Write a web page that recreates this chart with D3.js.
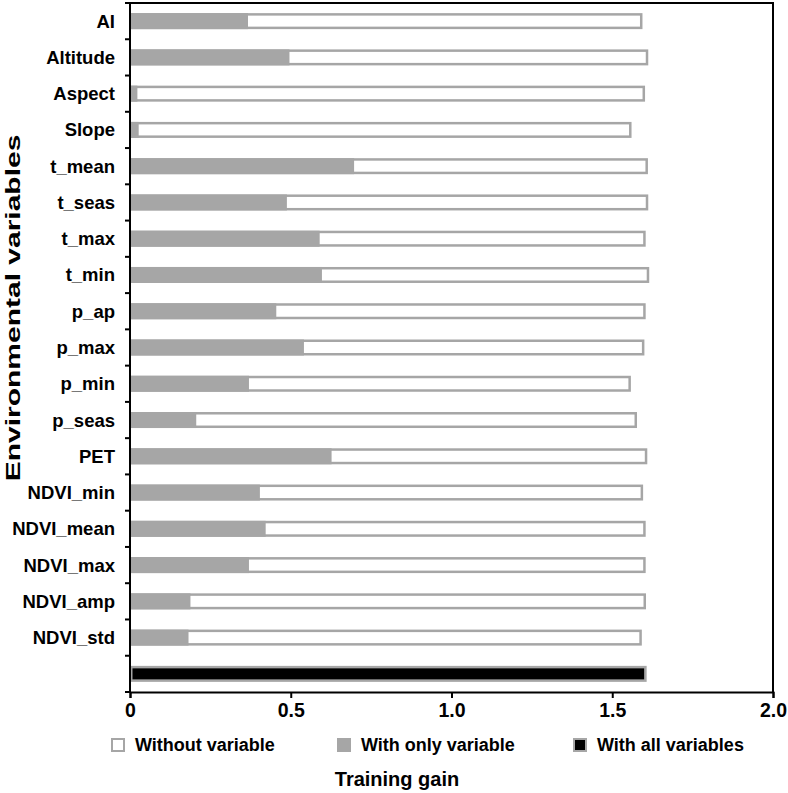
<!DOCTYPE html>
<html>
<head>
<meta charset="utf-8">
<script src="https://cdn.jsdelivr.net/npm/d3@7"></script>
<style>
  body { margin: 0; background: #fff; }
  text { font-family: "Liberation Sans", Arial, sans-serif; font-weight: bold; fill: #000; }
</style>
</head>
<body>
<div id="chart"></div>
<script>
// data
var categories = ["AI", "Altitude", "Aspect", "Slope", "t_mean", "t_seas", "t_max", "t_min",
  "p_ap", "p_max", "p_min", "p_seas", "PET", "NDVI_min", "NDVI_mean", "NDVI_max", "NDVI_amp", "NDVI_std"];
var withoutVar = [1.594, 1.612, 1.602, 1.560, 1.611, 1.612, 1.604, 1.615,
  1.604, 1.600, 1.558, 1.577, 1.609, 1.596, 1.604, 1.604, 1.605, 1.592];
var onlyVar = [0.367, 0.496, 0.023, 0.027, 0.697, 0.488, 0.590, 0.597,
  0.455, 0.541, 0.370, 0.206, 0.627, 0.404, 0.422, 0.370, 0.188, 0.182];
var allVars = 1.607;
var xTicks = [0, 0.5, 1.0, 1.5, 2.0];
var xTickLabels = ["0", "0.5", "1.0", "1.5", "2.0"];
var legendNames = ["Without variable", "With only variable", "With all variables"];

var width = 788, height = 793;
var plotL = 130, plotR = 773, plotT = 3, plotB = 692; // (window.top is read-only, so no "top")
var GRAY = "#a6a6a6";

var svg = d3.select("#chart").append("svg")
  .attr("width", width)
  .attr("height", height);

var x = d3.scaleLinear().domain([0, 2]).range([plotL, plotR]);
var rows = categories.concat(["__all"]);
var y = d3.scaleBand().domain(rows).range([plotT, plotB]).padding(0);
var bh = 16; // bar height incl. stroke
var sw = 2.5;

var bars = svg.append("g");
categories.forEach(function (c, i) {
  var cy = y(c) + y.bandwidth() / 2;
  // without variable: white bar with grey outline
  bars.append("rect")
    .attr("x", x(0) + sw / 2)
    .attr("y", cy - bh / 2 + sw / 2)
    .attr("width", x(withoutVar[i]) - x(0) - sw)
    .attr("height", bh - sw)
    .attr("fill", "#fff")
    .attr("stroke", GRAY)
    .attr("stroke-width", sw);
  // with only variable: grey bar
  bars.append("rect")
    .attr("x", x(0))
    .attr("y", cy - bh / 2)
    .attr("width", x(onlyVar[i]) - x(0))
    .attr("height", bh)
    .attr("fill", GRAY);
});

// with all variables
var ay = y("__all") + y.bandwidth() / 2;
bars.append("rect")
  .attr("x", x(0) + sw / 2)
  .attr("y", ay - bh / 2 + sw / 2)
  .attr("width", x(allVars) - x(0) - sw)
  .attr("height", bh - sw)
  .attr("fill", "#000")
  .attr("stroke", GRAY)
  .attr("stroke-width", sw);

// frame (top + right)
svg.append("path")
  .attr("d", `M${plotL},${plotT}H${plotR}V${plotB}`)
  .attr("fill", "none")
  .attr("stroke", "#000")
  .attr("stroke-width", 2);

// y axis: labels centered on bands, ticks on band boundaries
var yAxis = svg.append("g");
yAxis.append("line")
  .attr("x1", plotL).attr("x2", plotL)
  .attr("y1", plotT - 1).attr("y2", plotB + 1)
  .attr("stroke", "#000").attr("stroke-width", 2);
d3.range(rows.length + 1).forEach(function (k) {
  var ty = plotT + k * y.bandwidth();
  yAxis.append("line")
    .attr("x1", plotL - 5).attr("x2", plotL)
    .attr("y1", ty).attr("y2", ty)
    .attr("stroke", "#000").attr("stroke-width", 2);
});
yAxis.selectAll("text.cat")
  .data(categories)
  .enter().append("text")
    .attr("class", "cat")
    .attr("x", 115)
    .attr("y", d => y(d) + y.bandwidth() / 2)
    .attr("dy", "0.35em")
    .attr("text-anchor", "end")
    .style("font-size", "18.5px")
    .text(d => d);

// x axis
var xAxis = svg.append("g")
  .attr("transform", `translate(0,${plotB})`)
  .call(d3.axisBottom(x).tickValues(xTicks).tickSize(6).tickPadding(5)
    .tickFormat((d, i) => xTickLabels[i]));
xAxis.select(".domain").attr("stroke-width", 2);
xAxis.selectAll(".tick line").attr("stroke-width", 2);
xAxis.selectAll(".tick text")
  .style("font-family", "'Liberation Sans', Arial, sans-serif")
  .style("font-weight", "bold")
  .style("font-size", "19.5px")
  .attr("fill", "#000");

// axis titles (the y title is drawn long and narrow, as in the source figure)
svg.append("text")
  .attr("transform", `translate(20,308) rotate(-90) scale(1.5,1)`)
  .attr("text-anchor", "middle")
  .style("font-size", "20px")
  .text("Environmental variables");

svg.append("text")
  .attr("x", 397)
  .attr("y", 786)
  .attr("text-anchor", "middle")
  .style("font-size", "20px")
  .text("Training gain");

// legend
var legX = [111, 337, 573];
var legend = svg.append("g");
legendNames.forEach(function (name, i) {
  var g = legend.append("g").attr("transform", `translate(${legX[i]},738)`);
  g.append("rect")
    .attr("x", 1).attr("y", 1)
    .attr("width", 12).attr("height", 12)
    .attr("fill", i === 0 ? "#fff" : i === 1 ? GRAY : "#000")
    .attr("stroke", GRAY)
    .attr("stroke-width", 2);
  g.append("text")
    .attr("x", 24)
    .attr("y", 13)
    .style("font-size", "18px")
    .text(name);
});
</script>
</body>
</html>
